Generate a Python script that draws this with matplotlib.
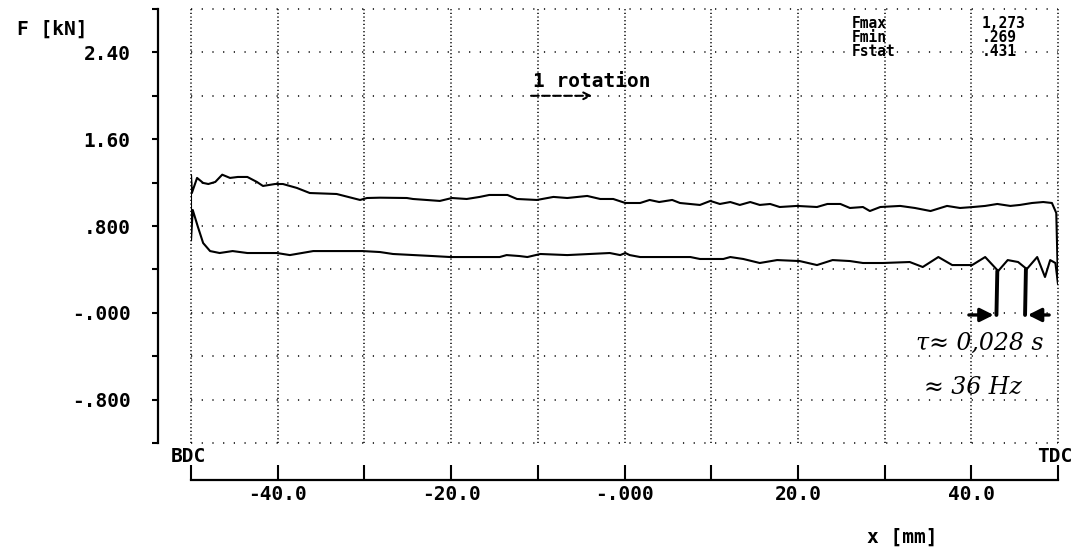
import matplotlib.pyplot as plt
import numpy as np

plt.rcParams['font.family'] = ['DejaVu Sans Mono', 'DejaVu Sans']

# Force over stroke: upper branch, BDC -> TDC (x in mm, F in kN)
upper_x = [-50.0, -50.0, -49.9, -49.3, -48.6, -48.0, -47.2, -46.4, -45.5, -44.6,
           -43.5, -42.4, -41.7, -40.3, -39.4, -37.8, -36.3, -33.2, -30.5, -29.7,
           -28.2, -25.1, -24.4, -21.3, -19.9, -18.2, -16.7, -15.6, -13.5, -12.4,
           -10.1, -8.2, -6.6, -4.3, -2.8, -1.3, 0.1, 1.8, 2.9, 4.0,
           5.5, 6.4, 8.7, 9.9, 11.0, 12.2, 13.3, 14.5, 15.6, 16.8,
           17.9, 19.9, 22.2, 23.4, 24.9, 26.0, 27.5, 28.3, 29.5, 31.8,
           33.5, 35.3, 37.2, 38.7, 40.2, 41.6, 43.0, 44.5, 45.6, 47.0,
           48.3, 49.3, 49.8, 50.0]
upper_f = [0.671, 1.270, 1.104, 1.243, 1.197, 1.187, 1.206, 1.273, 1.243, 1.252,
           1.252, 1.206, 1.169, 1.187, 1.187, 1.151, 1.104, 1.095, 1.040, 1.058,
           1.061, 1.058, 1.049, 1.031, 1.058, 1.049, 1.068, 1.086, 1.086, 1.049,
           1.040, 1.068, 1.058, 1.077, 1.049, 1.049, 1.012, 1.012, 1.040, 1.021,
           1.040, 1.012, 0.994, 1.031, 1.003, 1.021, 0.994, 1.021, 0.994, 1.003,
           0.975, 0.985, 0.975, 1.003, 1.003, 0.966, 0.975, 0.938, 0.975, 0.985,
           0.966, 0.938, 0.985, 0.966, 0.975, 0.985, 1.003, 0.985, 0.994, 1.012,
           1.021, 1.012, 0.920, 0.269]

# lower branch, TDC -> BDC
lower_x = [50.0, 49.7, 49.1, 48.5, 47.6, 46.4, 45.4, 44.2, 43.1, 41.6,
           40.1, 37.8, 36.2, 34.4, 32.9, 29.8, 27.5, 26.0, 24.0, 22.2,
           20.2, 17.6, 15.6, 13.7, 12.2, 11.4, 8.7, 7.6, 1.8, 0.6,
           0.1, -0.5, -1.7, -6.6, -9.7, -11.2, -12.1, -13.6, -14.4, -17.0,
           -18.6, -20.1, -22.1, -26.7, -28.2, -30.2, -34.0, -35.9, -38.6, -40.1,
           -43.5, -45.2, -46.7, -47.8, -48.6, -49.2, -49.8, -49.9, -50.0]
lower_f = [0.269, 0.459, 0.486, 0.330, 0.514, 0.403, 0.468, 0.486, 0.385, 0.514,
           0.440, 0.440, 0.514, 0.422, 0.468, 0.459, 0.459, 0.477, 0.486, 0.440,
           0.477, 0.486, 0.459, 0.496, 0.514, 0.496, 0.496, 0.514, 0.514, 0.532,
           0.551, 0.532, 0.551, 0.532, 0.542, 0.514, 0.523, 0.532, 0.514, 0.514,
           0.514, 0.514, 0.523, 0.542, 0.560, 0.569, 0.569, 0.569, 0.532, 0.551,
           0.551, 0.569, 0.551, 0.569, 0.643, 0.791, 0.948, 0.809, 0.671]

y_ticks = [-1.2, -0.8, -0.4, 0.0, 0.4, 0.8, 1.2, 1.6, 2.0, 2.4, 2.8]
y_labels = ["", "-.800", "", "-.000", "", ".800", "", "1.60", "", "2.40", ""]
x_ticks = [-50, -40, -30, -20, -10, 0, 10, 20, 30, 40, 50]
x_labels = ["", "-40.0", "", "-20.0", "", "-.000", "", "20.0", "", "40.0", ""]

stat_names = ["Fmax", "Fmin", "Fstat"]
stat_values = ["1,273", ".269", ".431"]

# period marks on the oscillation near TDC
period_x = [43.0, 46.3]
period_f = [0.385, 0.403]
period_base = -0.02

W, H = 1083, 549
fig = plt.figure(figsize=(W / 100, H / 100), dpi=100)
ax = fig.add_axes([191 / W, 1 - 443 / H, 867 / W, 434 / H])
ax.set_xlim(-50, 50)
ax.set_ylim(-1.2, 2.8)

# dotted grid, sparse along rows, dense along columns
for yv in y_ticks:
    ax.axhline(yv, color='k', lw=1.1, ls=(0, (0.8, 6.2)), clip_on=False, zorder=1)
for xv in x_ticks:
    ax.axvline(xv, color='k', lw=1.1, ls=(0, (0.8, 1.6)), clip_on=False, zorder=1)

ax.plot(upper_x, upper_f, color='k', lw=1.5, zorder=3)
ax.plot(lower_x, lower_f, color='k', lw=1.5, zorder=3)

for s in ['top', 'right']:
    ax.spines[s].set_visible(False)
ax.spines['left'].set_position(('outward', 24))
ax.spines['bottom'].set_position(('outward', 26.6))
ax.spines['left'].set_linewidth(1.6)
ax.spines['bottom'].set_linewidth(1.6)

ax.set_yticks(y_ticks)
ax.set_yticklabels(y_labels, fontsize=14, fontweight='bold')
ax.set_xticks(x_ticks)
ax.set_xticklabels(x_labels, fontsize=14, fontweight='bold')
ax.tick_params(axis='y', direction='out', length=4.5, width=1.5, pad=15)
ax.tick_params(axis='x', direction='in', length=11, width=1.5, pad=4)

txt = dict(fontsize=14, fontweight='bold', color='k')
fig.text(17 / W, 1 - 29 / H, "F [kN]", ha='left', va='center', **txt)
fig.text(188 / W, 1 - 456 / H, "BDC", ha='center', va='center', **txt)
fig.text(1055 / W, 1 - 456 / H, "TDC", ha='center', va='center', **txt)
fig.text(902 / W, 1 - 537 / H, "x [mm]", ha='center', va='center', **txt)

for i, (name, val) in enumerate(zip(stat_names, stat_values)):
    yy = 1 - (23 + 14 * i) / H
    fig.text(852 / W, yy, name, ha='left', va='center', fontsize=10.5,
             fontweight='bold')
    fig.text(982 / W, yy, val, ha='left', va='center', fontsize=10.5,
             fontweight='bold')

ax.text(-10.6, 2.13, "1 rotation", ha='left', va='center', **txt)
ax.annotate("", xy=(-3.4, 2.0), xytext=(-11.1, 2.0),
            arrowprops=dict(arrowstyle='->', lw=1.5, ls='--', color='k',
                            mutation_scale=12))

# hand-drawn period marking
for px, pf in zip(period_x, period_f):
    ax.plot([px, px - 0.1], [pf, period_base], color='k', lw=2.8,
            solid_capstyle='round', zorder=4)
ax.annotate("", xy=(period_x[0] - 0.1, period_base), xytext=(39.4, period_base),
            arrowprops=dict(arrowstyle='-|>', lw=2.4, color='k', mutation_scale=20))
ax.annotate("", xy=(period_x[1] - 0.1, period_base), xytext=(49.3, period_base),
            arrowprops=dict(arrowstyle='-|>', lw=2.4, color='k', mutation_scale=20))

hand = dict(fontsize=17, style='italic', family='DejaVu Serif', color='k',
            ha='center', va='center')
ax.text(41.0, -0.28, "τ≈ 0,028 s", **hand)
ax.text(40.2, -0.69, "≈ 36 Hz", **hand)

fig.savefig("out.png", dpi=100)
